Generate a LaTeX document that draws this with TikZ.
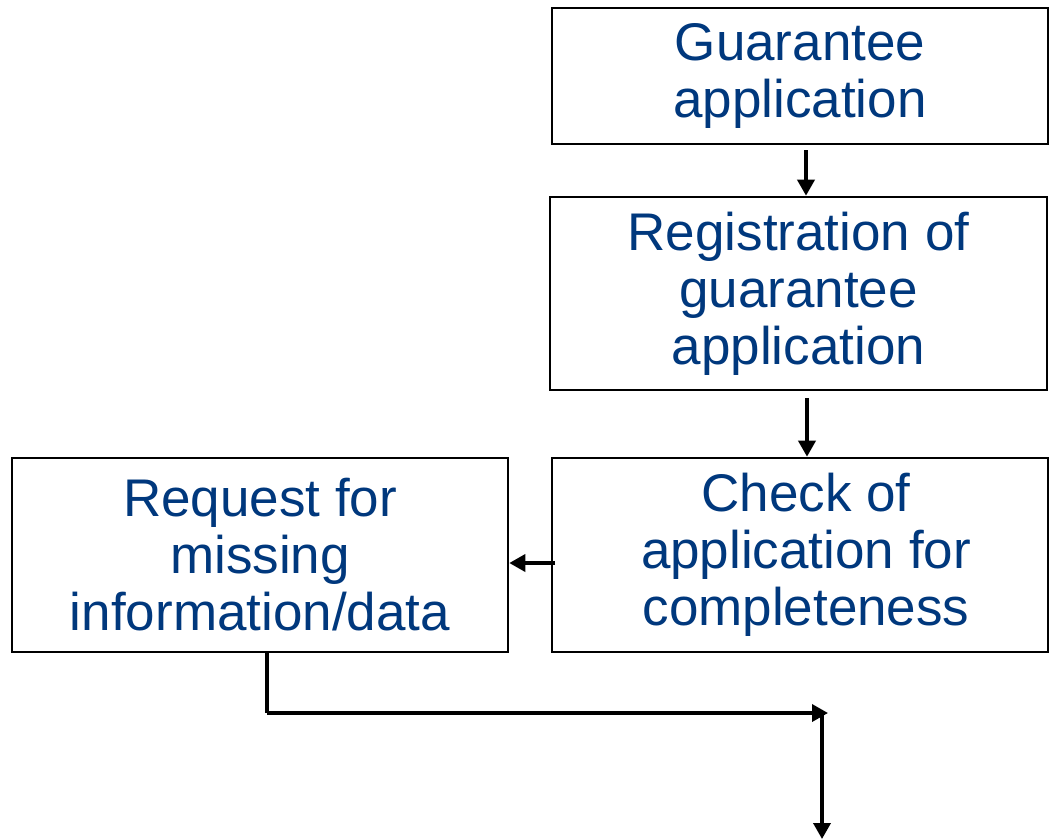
\documentclass[tikz,border=0pt]{standalone}
\usepackage{fontspec}
\setmainfont{Liberation Sans}
\usetikzlibrary{arrows.meta}
\definecolor{textblue}{RGB}{0,56,125}
\begin{document}
\begin{tikzpicture}[x=1pt,y=-1pt,
  procbox/.style={draw=black,line width=2.6pt,fill=white,rectangle,inner sep=0pt,
    align=center,text=textblue,font=\fontsize{53}{57}\selectfont},
  flow/.style={line width=3.6pt,-{Triangle[length=16pt,width=17pt]}},
  plainflow/.style={line width=3.6pt}]
\useasboundingbox (0,0) rectangle (1050,839);
% process boxes
\node[procbox,minimum width=496pt,minimum height=136pt] (apply) at (800,76) {Guarantee\\application};
\node[procbox,minimum width=497pt,minimum height=193pt] (register) at (798.5,293.5) {Registration of\\guarantee\\application};
\node[procbox,minimum width=496pt,minimum height=194pt] (check) at (800,555) {\hspace*{12pt}Check of\\\hspace*{12pt}application for\\\hspace*{12pt}completeness};
\node[procbox,minimum width=496pt,minimum height=194pt] (request) at (260,555) {Request for\\missing\\information/data};
% connector end points
\coordinate (a1) at (806,150);
\coordinate (a2) at (807,398);
\coordinate (c3) at (555,563);
\coordinate (rq) at (267,652);
\coordinate (bend) at (267,713);
\coordinate (join) at (828,713);
\coordinate (down) at (822,711);
\coordinate (out) at (822,839);
% connectors
\draw[flow] (a1) -- (a1 |- register.north);
\draw[flow] (a2) -- (a2 |- check.north);
\draw[flow] (c3) -- (c3 -| request.east);
\draw[plainflow] (rq) -- (bend);
\draw[flow] (bend) -- (join);
\draw[flow] (down) -- (out);
\end{tikzpicture}
\end{document}
